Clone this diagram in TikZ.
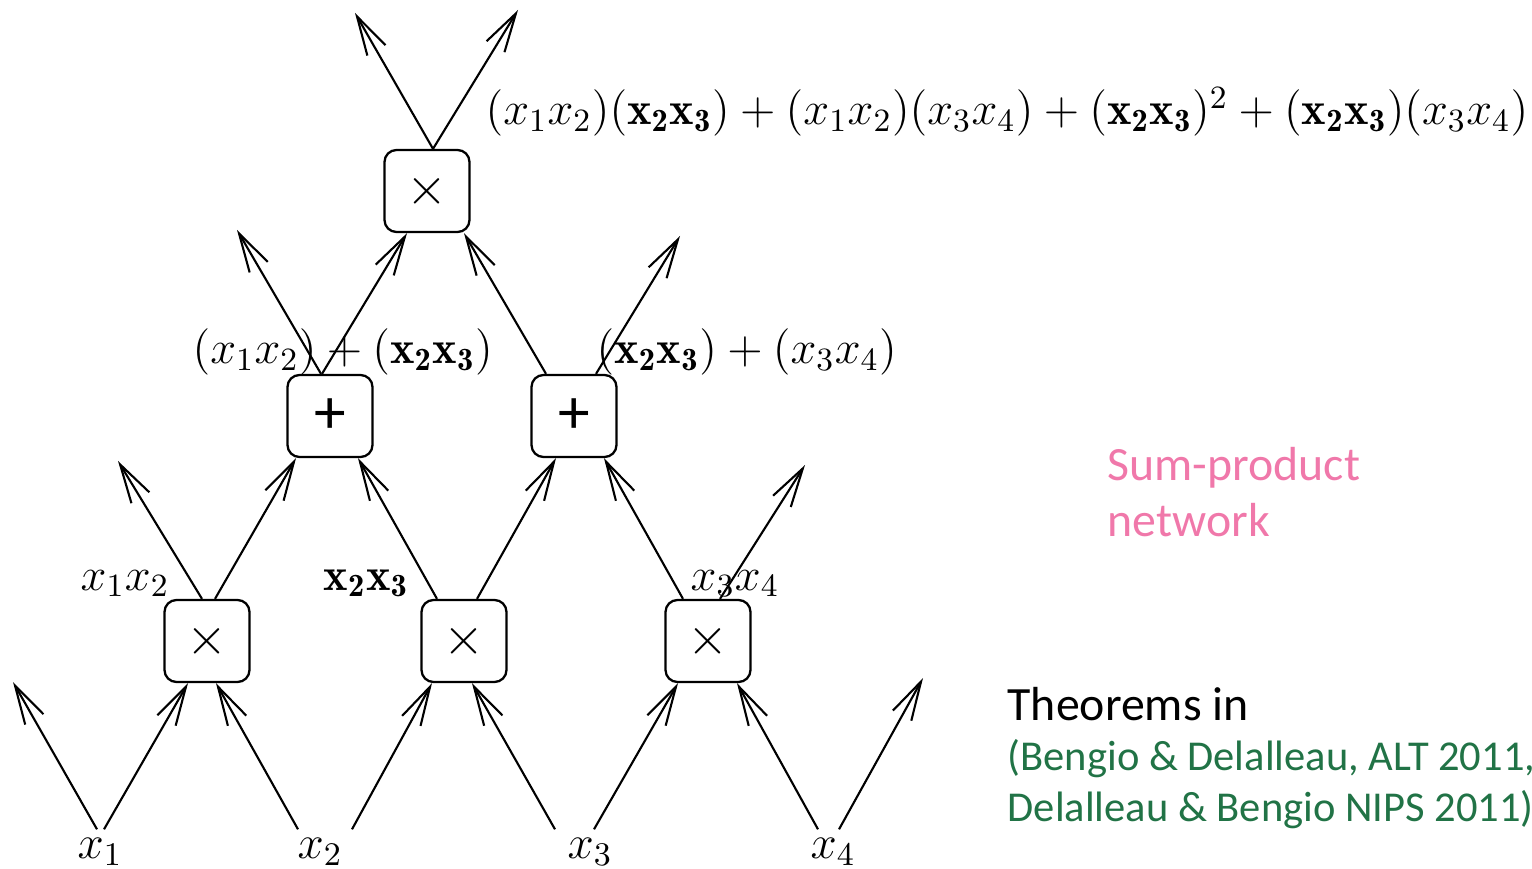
\RequirePackage{fix-cm}
\documentclass[tikz,border=0pt]{standalone}
\usepackage{amsmath}
\usepackage{fontspec}
\newfontfamily\calfont{Carlito}
\usetikzlibrary{arrows.meta}
\definecolor{spnpink}{RGB}{240,120,170}
\definecolor{refgreen}{RGB}{33,115,70}

\begin{document}
\begin{tikzpicture}[x=0.1mm, y=-0.1mm,
    op/.style={draw, rounded corners=1.2mm, minimum width=8.5mm, minimum height=8.2mm,
               inner sep=0pt, line width=0.65pt, font=\fontsize{15}{18}\selectfont},
    sumop/.style={op, font=\calfont\fontsize{18}{20}\selectfont},
    edge/.style={line width=0.6pt, -{Straight Barb[length=3.9mm, width=2.1mm]}},
    inp/.style={font=\fontsize{13.4}{16}\selectfont, anchor=base},
    expr/.style={font=\fontsize{13.2}{16}\selectfont, anchor=base west, inner sep=0pt},
    side/.style={font=\calfont\fontsize{13.6}{16}\selectfont, anchor=base west, inner sep=0pt}]
    \useasboundingbox (0,0) rectangle (1532,869);
    % 运算节点
    \node[op] (t)  at (427,191) {$\times$};
    \node[sumop] (s1) at (330,416) {\raisebox{-0.6mm}{+}};
    \node[sumop] (s2) at (574,416) {\raisebox{-0.6mm}{+}};
    \node[op] (m1) at (207,641) {$\times$};
    \node[op] (m2) at (464,641) {$\times$};
    \node[op] (m3) at (708,641) {$\times$};
    % 输入
    \node[inp] (x1) at (100,858) {$x_1$};
    \node[inp] (x2) at (320,858) {$x_2$};
    \node[inp] (x3) at (590,858) {$x_3$};
    \node[inp] (x4) at (833,858) {$x_4$};
    % 悬空箭头的端点
    \coordinate (a1) at (13,682);
    \coordinate (a2) at (923,678);
    \coordinate (b1) at (118,461);
    \coordinate (b2) at (805,465);
    \coordinate (c1) at (237,230);
    \coordinate (c2) at (680,236);
    \coordinate (d1) at (355,13);
    \coordinate (d2) at (518,10);
    % 第一层
    \draw[edge] ([xshift=-0.3mm,yshift=-0.4mm]x1.north) -- (a1);
    \draw[edge] ([xshift=0.4mm,yshift=-0.4mm]x1.north) -- ([xshift=-1.9mm]m1.south);
    \draw[edge] ([xshift=-2.2mm,yshift=-0.4mm]x2.north) -- ([xshift=0.9mm]m1.south);
    \draw[edge] ([xshift=3.2mm,yshift=-0.4mm]x2.north) -- ([xshift=-3.2mm]m2.south);
    \draw[edge] ([xshift=-3.5mm,yshift=-0.4mm]x3.north) -- ([xshift=0.8mm]m2.south);
    \draw[edge] ([xshift=0.4mm,yshift=-0.4mm]x3.north) -- ([xshift=-3mm]m3.south);
    \draw[edge] ([xshift=-1.5mm,yshift=-0.4mm]x4.north) -- ([xshift=2.9mm]m3.south);
    \draw[edge] ([xshift=0.6mm,yshift=-0.4mm]x4.north) -- (a2);
    % 第二层
    \draw[edge] ([xshift=-0.5mm]m1.north) -- (b1);
    \draw[edge] ([xshift=0.8mm]m1.north) -- ([xshift=-3.4mm]s1.south);
    \draw[edge] ([xshift=-2.7mm]m2.north) -- ([xshift=2.8mm]s1.south);
    \draw[edge] ([xshift=1.3mm]m2.north) -- ([xshift=-1.8mm]s2.south);
    \draw[edge] ([xshift=-2.5mm]m3.north) -- ([xshift=3mm]s2.south);
    \draw[edge] ([xshift=1.2mm]m3.north) -- (b2);
    % 第三层
    \draw[edge] ([xshift=-0.9mm]s1.north) -- (c1);
    \draw[edge] ([xshift=-0.8mm]s1.north) -- ([xshift=-2mm]t.south);
    \draw[edge] ([xshift=-2.8mm]s2.north) -- ([xshift=3.7mm]t.south);
    \draw[edge] ([xshift=2.2mm]s2.north) -- (c2);
    % 顶层
    \draw[edge] ([xshift=0.6mm]t.north) -- (d1);
    \draw[edge] ([xshift=0.6mm]t.north) -- (d2);
    % 中间结果
    \node[expr] (lt) at (485,125) {$(x_1x_2)(\mathbf{x_2x_3})+(x_1x_2)(x_3x_4)+(\mathbf{x_2x_3})^2+(\mathbf{x_2x_3})(x_3x_4)$};
    \node[expr] (ls1) at (192,364) {$(x_1x_2)+(\mathbf{x_2x_3})$};
    \node[expr] (ls2) at (596,364) {$(\mathbf{x_2x_3})+(x_3x_4)$};
    \node[expr] (lm1) at (80,590) {$x_1x_2$};
    \node[expr] (lm2) at (323,590) {$\mathbf{x_2x_3}$};
    \node[expr] (lm3) at (690,590) {$x_3x_4$};
    % 右侧说明
    \node[side, text=spnpink] (sp1) at (1107,481) {Sum-product};
    \node[side, text=spnpink] (sp2) at (1107,537) {network};
    \node[side] (th) at (1007,720) {Theorems in};
    \node[side, text=refgreen, font=\calfont\fontsize{12.1}{14}\selectfont] (rf1) at (1007,770) {(Bengio \& Delalleau, ALT 2011,};
    \node[side, text=refgreen, font=\calfont\fontsize{12.1}{14}\selectfont] (rf2) at (1007,821) {Delalleau \& Bengio NIPS 2011)};
\end{tikzpicture}
\end{document}
